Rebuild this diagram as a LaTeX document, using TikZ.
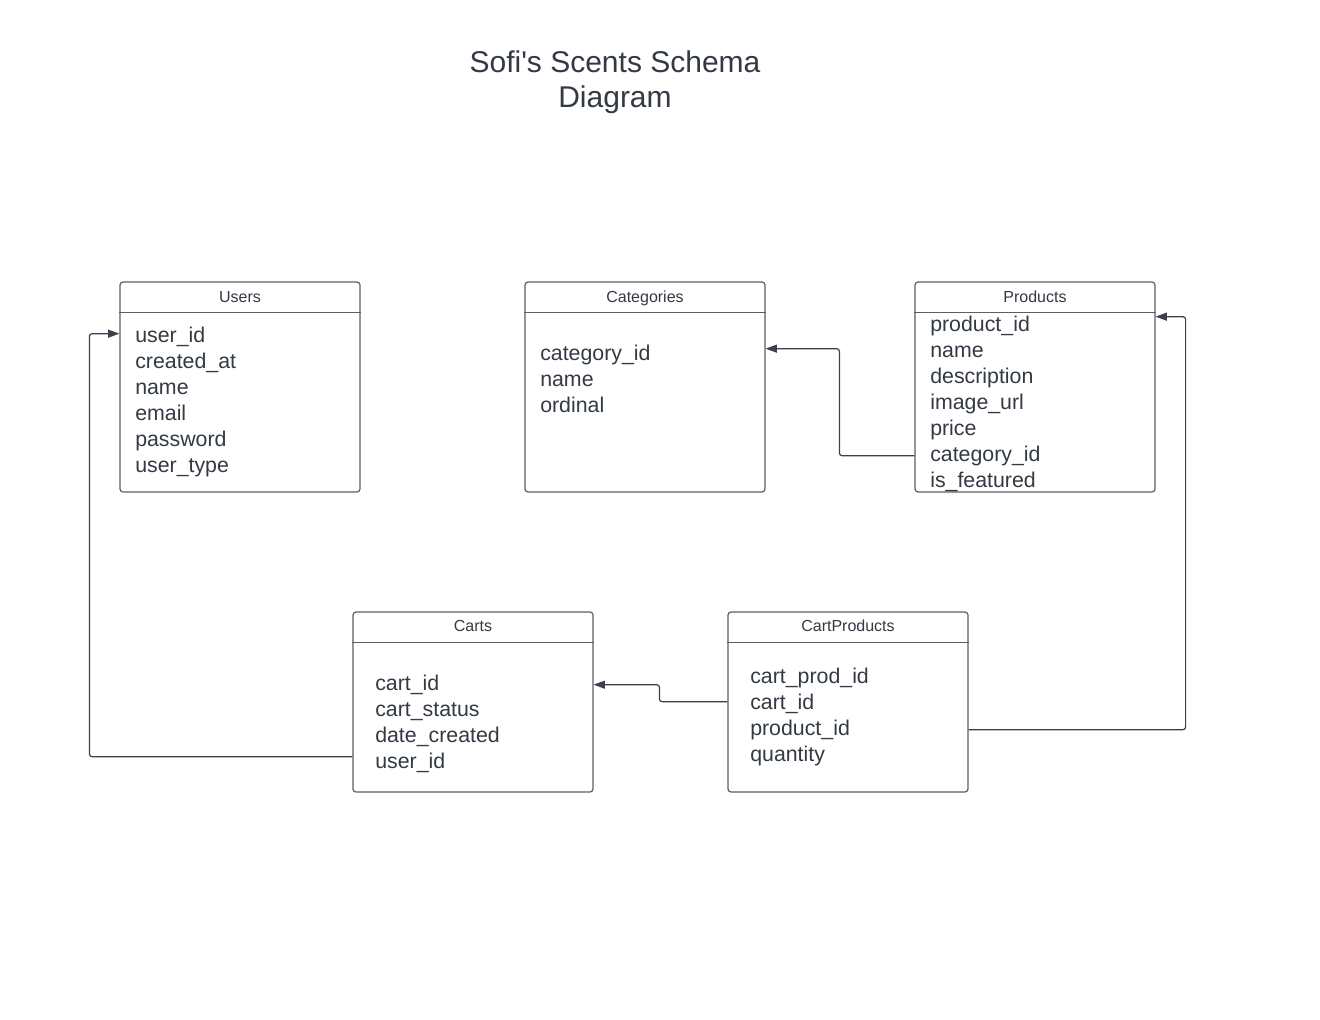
\documentclass[tikz,border=0pt]{standalone}
\usepackage{fontspec}
\setmainfont{Liberation Sans}
\usetikzlibrary{arrows.meta, calc}

\definecolor{inkgray}{HTML}{333A44}
\definecolor{boxgray}{HTML}{5E5E5E}
\definecolor{linegray}{HTML}{3A414A}

\begin{document}
\begin{tikzpicture}[x = 0.75pt, y = -0.75pt,
    tbl/.style = {draw = boxgray, line width = 0.9pt, rounded corners = 2.25pt,
      minimum width = 180pt, inner sep = 0pt},
    tblline/.style = {draw = boxgray, line width = 0.9pt},
    hdr/.style = {anchor = base, inner sep = 0pt, text = inkgray,
      font = \fontsize{12}{14}\selectfont},
    fld/.style = {anchor = base west, inner sep = 0pt, text = inkgray,
      text height = 11pt, text depth = 3pt, font = \fontsize{16}{19.5}\selectfont},
    fklink/.style = {draw = linegray, line width = 0.9pt, rounded corners = 2pt,
      -{Triangle[length = 8.5pt, width = 6pt]}}]

  \fill[white] (0, 0) rectangle (1320, 1020);
  \useasboundingbox (0, 0) rectangle (1320, 1020);

  \node[align = center, text = inkgray, inner sep = 0pt,
    font = \fontsize{22.5}{26.5}\selectfont] (title) at (615, 82)
    {Sofi\textquotesingle s Scents Schema\\Diagram};

  \node[tbl, minimum height = 157.5pt] (users) at (240, 387) {};
  \draw[tblline] ($(users.north west)+(0, 31)$) -- ($(users.north east)+(0, 31)$);
  \node[hdr] (usersh) at (240, 302) {Users};
  \node[fld] (usersuid) at (135, 342) {user\_id};
  \node[fld] (userscre) at (135, 368) {created\_at};
  \node[fld] (usersname) at (135, 394) {name};
  \node[fld] (usersmail) at (135, 420) {email};
  \node[fld] (userspw) at (135, 446) {password};
  \node[fld] (userstype) at (135, 472) {user\_type};

  \node[tbl, minimum height = 157.5pt] (categories) at (645, 387) {};
  \draw[tblline] ($(categories.north west)+(0, 31)$) -- ($(categories.north east)+(0, 31)$);
  \node[hdr] (categoriesh) at (645, 302) {Categories};
  \node[fld] (catid) at (540, 360) {category\_id};
  \node[fld] (catname) at (540, 386) {name};
  \node[fld] (catord) at (540, 412) {ordinal};

  \node[tbl, minimum height = 157.5pt] (products) at (1035, 387) {};
  \draw[tblline] ($(products.north west)+(0, 31)$) -- ($(products.north east)+(0, 31)$);
  \node[hdr] (productsh) at (1035, 302) {Products};
  \node[fld] (prodid) at (930, 331) {product\_id};
  \node[fld] (prodname) at (930, 357) {name};
  \node[fld] (proddesc) at (930, 383) {description};
  \node[fld] (prodimg) at (930, 409) {image\_url};
  \node[fld] (prodprice) at (930, 435) {price};
  \node[fld] (prodcat) at (930, 461) {category\_id};
  \node[fld] (prodfeat) at (930, 487) {is\_featured};

  \node[tbl, minimum height = 135pt] (carts) at (473, 702) {};
  \draw[tblline] ($(carts.north west)+(0, 31)$) -- ($(carts.north east)+(0, 31)$);
  \node[hdr] (cartsh) at (473, 631) {Carts};
  \node[fld] (cartsid) at (375, 690) {cart\_id};
  \node[fld] (cartsstat) at (375, 716) {cart\_status};
  \node[fld] (cartsdate) at (375, 742) {date\_created};
  \node[fld] (cartsuid) at (375, 768) {user\_id};

  \node[tbl, minimum height = 135pt] (cartprods) at (848, 702) {};
  \draw[tblline] ($(cartprods.north west)+(0, 31)$) -- ($(cartprods.north east)+(0, 31)$);
  \node[hdr] (cartprodsh) at (848, 631) {CartProducts};
  \node[fld] (cpid) at (750, 683) {cart\_prod\_id};
  \node[fld] (cpcid) at (750, 709) {cart\_id};
  \node[fld] (cppid) at (750, 735) {product\_id};
  \node[fld] (cpqty) at (750, 761) {quantity};

  \draw[fklink] ($(carts.west |- cartsuid)+(0, -6)$) -- ++(-263, 0)
    |- ($(users.west |- usersuid)+(0, -3)$);
  \draw[fklink] (products.west |- prodcat) -- ++(-75, 0)
    |- ($(categories.east |- catid)+(0, -6)$);
  \draw[fklink] ($(cartprods.west |- cpcid)+(0, -2)$) -- ++(-68, 0)
    |- (carts.east |- cartsid);
  \draw[fklink] (cartprods.east |- cppid) -- ++(217, 0)
    |- ($(products.east |- prodid)+(0, -9)$);
\end{tikzpicture}
\end{document}
